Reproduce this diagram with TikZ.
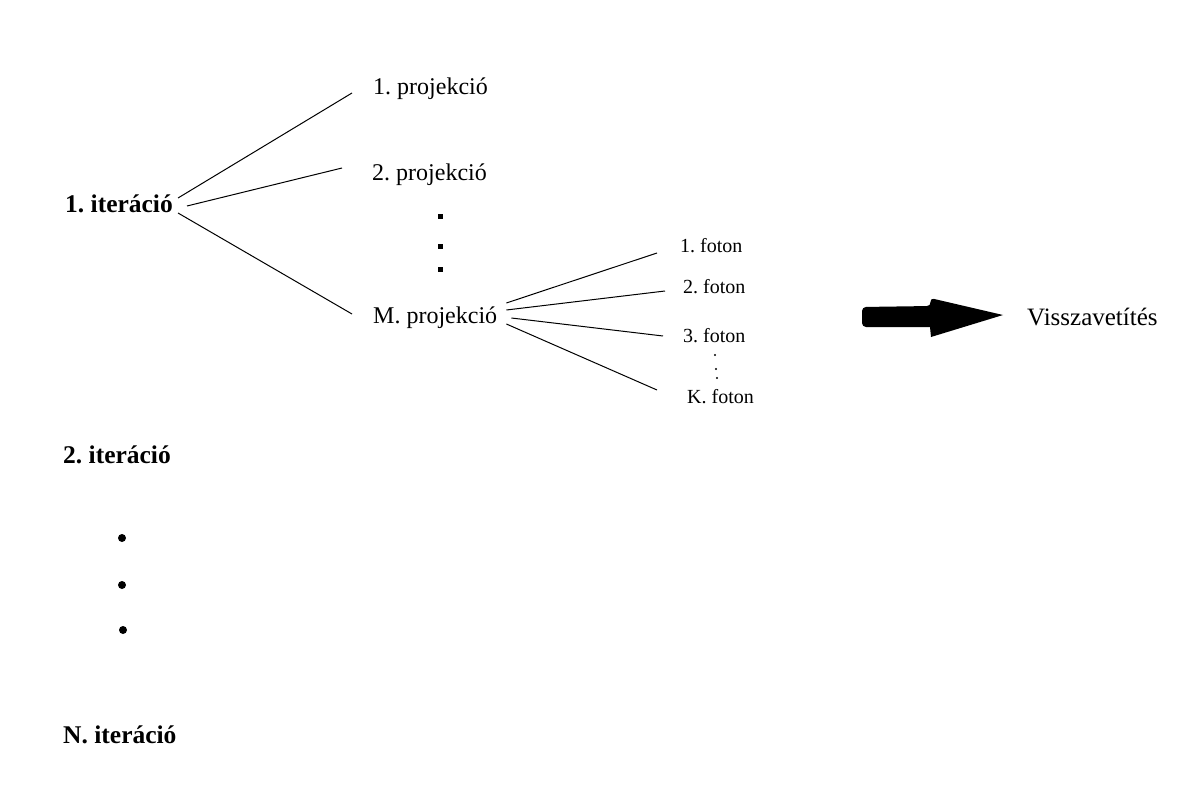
\documentclass[tikz,border=0pt]{standalone}
\usepackage{fontspec}
\setmainfont{Liberation Serif}
\usetikzlibrary{calc}
\frenchspacing
\begin{document}
\begin{tikzpicture}[x=1pt,y=-1pt,
  lbl/.style={inner sep=0pt,anchor=base west},
  iter/.style={lbl,font=\fontsize{25.5}{28}\selectfont\bfseries},
  proj/.style={lbl,font=\fontsize{24}{27}\selectfont},
  phot/.style={lbl,font=\fontsize{20}{23}\selectfont},
  result/.style={lbl,font=\fontsize{25}{28}\selectfont},
  edge/.style={draw=black,line width=1pt},
  bigdot/.style={fill=black},
  ]
\fill[white] (0,0) rectangle (1203,800);
\useasboundingbox (0,0) rectangle (1203,800);

% iterations
\node[iter] (it1) at (65,212) {1. iteráció};
\node[iter] (it2) at (63,463) {2. iteráció};
\node[iter] (itN) at (63,743) {N. iteráció};

% projections of the first iteration
\node[proj] (p1) at (373,95) {1. projekció};
\node[proj] (p2) at (372,180) {2. projekció};
\node[proj] (pM) at (373,323) {M. projekció};

% photons of the M-th projection
\node[phot] (f1) at (680,252) {1. foton};
\node[phot] (f2) at (683,293) {2. foton};
\node[phot] (f3) at (683,342) {3. foton};
\node[phot] (fK) at (687,403) {K. foton};

% back projection
\node[result] (back) at (1027,325) {Visszavetítés};

% iteration -> projections
\draw[edge] ($(it1.base east)+(5,-14)$) -- ($(p1.base west)+(-21,-2)$);
\draw[edge] ($(it1.base east)+(14,-6)$) -- ($(p2.base west)+(-30,-12)$);
\draw[edge] ($(it1.base east)+(5,1)$) -- ($(pM.base west)+(-21,-9)$);

% projection -> photons
\draw[edge] ($(pM.base east)+(9,-20)$) -- ($(f1.base west)+(-23,1)$);
\draw[edge] ($(pM.base east)+(9,-13)$) -- ($(f2.base west)+(-18,-2)$);
\draw[edge] ($(pM.base east)+(14,-5)$) -- ($(f3.base west)+(-20,-6)$);
\draw[edge] ($(pM.base east)+(9,1)$) -- ($(fK.base west)+(-30,-13)$);

% vertical ellipses
\foreach \y in {214,244,267} \fill (437.5,\y) rectangle ++(5,5);
\foreach \x/\y in {715/355,716/369,717/378} \fill (\x,\y) circle (1.2);
\foreach \x/\y in {122/538,122/585,123/630} \fill[bigdot] (\x,\y) circle (4);

% thick arrow
\fill[black,rounded corners=4pt] (862,307) -- (931,306) -- (930,298)
  [sharp corners] -- (1003,315) -- (931,337) -- (930,327)
  [rounded corners=4pt] -- (862,327) -- cycle;
\end{tikzpicture}
\end{document}
